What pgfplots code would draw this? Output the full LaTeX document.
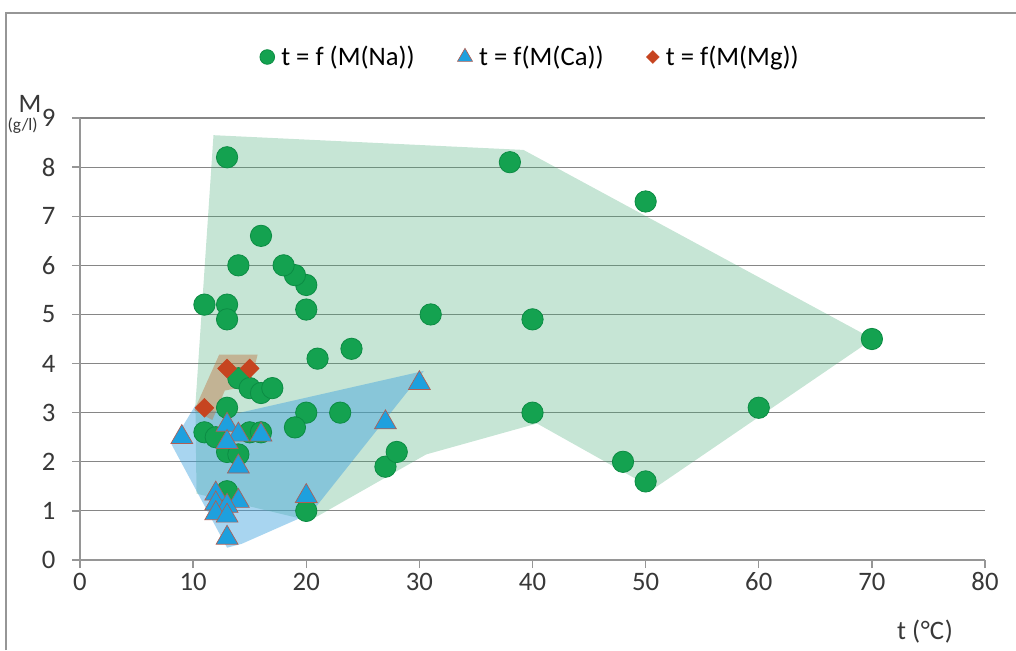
\documentclass[border=0pt]{standalone}
\usepackage{fontspec}
\setmainfont{Carlito}
\usepackage{pgfplots}
\pgfplotsset{compat=1.18}
\definecolor{nagreen}{RGB}{20,162,80}
\definecolor{nagreenedge}{RGB}{12,140,68}
\definecolor{cablue}{RGB}{30,160,222}
\definecolor{caedge}{RGB}{175,95,85}
\definecolor{mgred}{RGB}{198,68,32}
\definecolor{polygreen}{RGB}{65,168,115}
\definecolor{polyblue}{RGB}{62,162,222}
\definecolor{polybrown}{RGB}{190,120,70}
\definecolor{gridgray}{RGB}{134,134,134}
\definecolor{axgray}{RGB}{150,150,150}
\definecolor{framegray}{RGB}{150,150,150}
\begin{document}
\begin{tikzpicture}
\useasboundingbox (-60pt,-67.5pt) rectangle (702pt,420pt);
\draw[framegray, line width=1.5pt] (-55.5pt,-67.5pt) -- (-55.5pt,410.25pt) -- (702pt,410.25pt);
\begin{axis}[
  at={(0,0)}, anchor=south west,
  scale only axis, width=678.75pt, height=331.5pt,
  xmin=0, xmax=80, ymin=0, ymax=9,
  xtick={0,10,...,80}, ytick={0,1,...,9},
  axis x line*=bottom, axis y line*=left,
  axis line style={draw=axgray, line width=1pt},
  tick align=outside, major tick length=6pt,
  tick style={draw=axgray, line width=1pt},
  ymajorgrids, grid style={draw=gridgray, line width=0.9pt},
  ticklabel style={font=\fontsize{20}{22}\selectfont, text=black!78},
  yticklabel style={xshift=-9pt},
  /pgf/number format/assume math mode=true,
  legend style={at={(0.498,1.138)}, anchor=center, draw=none, fill=none,
    legend columns=3, font=\fontsize{20}{22}\selectfont,
    /tikz/every odd column/.append style={column sep=3pt},
    /tikz/every even column/.append style={column sep=30pt}},
  legend image code/.code={\draw[#1] plot coordinates {(0.2cm,0cm)};},
]
% green region (Na)
\addplot[forget plot, draw=none, fill=polygreen, fill opacity=0.3] coordinates {
  (11.8,8.65) (39.2,8.35) (70.1,4.5) (50.7,1.45) (40.4,2.78) (30.6,2.15)
  (20.3,0.8) (10.3,1.35) (10.2,3.15)} -- cycle;
% blue region (Ca)
\addplot[forget plot, draw=none, fill=polyblue, fill opacity=0.45] coordinates {
  (8.1,2.35) (10.2,3.15) (13.2,2.95) (30.4,3.85) (20.4,0.95) (14.3,0.33) (13.0,0.25)} -- cycle;
% brown region (Mg)
\addplot[forget plot, draw=none, fill=polybrown, fill opacity=0.45] coordinates {
  (10.1,3.05) (12.3,4.18) (15.7,4.18) (15.0,3.55) (12.8,3.45) (11.7,2.85)} -- cycle;

\addplot[only marks, mark=*, mark size=8pt, mark options={fill=nagreen, draw=nagreenedge, line width=0.6pt},
  legend image post style={mark size=5.5pt}] coordinates {
  (13,8.2) (38,8.1) (50,7.3) (70,4.5) (60,3.1) (50,1.6) (48,2.0) (40,4.9) (40,3.0)
  (31,5.0) (24,4.3) (21,4.1) (20,5.6) (20,5.1) (19,5.8) (18,6.0) (16,6.6) (14,6.0)
  (11,5.2) (13,5.2) (13,4.9) (20,3.0) (23,3.0) (19,2.7) (27,1.9) (28,2.2) (20,1.0)
  (14,3.7) (15,3.5) (16,3.4) (17,3.5) (13,3.1) (11,2.6) (12,2.5) (15,2.6) (16,2.6)
  (13,2.2) (14,2.15) (13,1.4)};
\addlegendentry{t = f (M(Na))}
\addplot[only marks, mark=triangle*, mark size=9.5pt, mark options={fill=cablue, draw=caedge, line width=0.5pt},
  legend image post style={mark size=6.5pt}] coordinates {
  (9,2.5) (13,2.75) (14,2.55) (16,2.55) (13,2.4) (14,1.9) (12,1.35) (12,1.15) (14,1.2)
  (13,1.1) (12,0.95) (13,0.9) (13,0.45) (20,1.3) (27,2.8) (30,3.6)};
\addlegendentry{t = f(M(Ca))}
\addplot[only marks, mark=square*, mark size=5pt, mark options={rotate=45, fill=mgred, draw=mgred},
  legend image post style={mark size=3.4pt}] coordinates {
  (11,3.1) (13,3.9) (15,3.9)};
\addlegendentry{t = f(M(Mg))}
\end{axis}
\node[font=\fontsize{20}{22}\selectfont, text=black!78] at (633.75pt,-54pt) {t (\kern0.5pt°C\kern0.5pt)};
\node[font=\fontsize{20}{22}\selectfont, text=black!78] at (-37.5pt,342pt) {M};
\node[font=\fontsize{13}{14}\selectfont, text=black!78] at (-43pt,326pt) {(g/l)};
\end{tikzpicture}
\end{document}
